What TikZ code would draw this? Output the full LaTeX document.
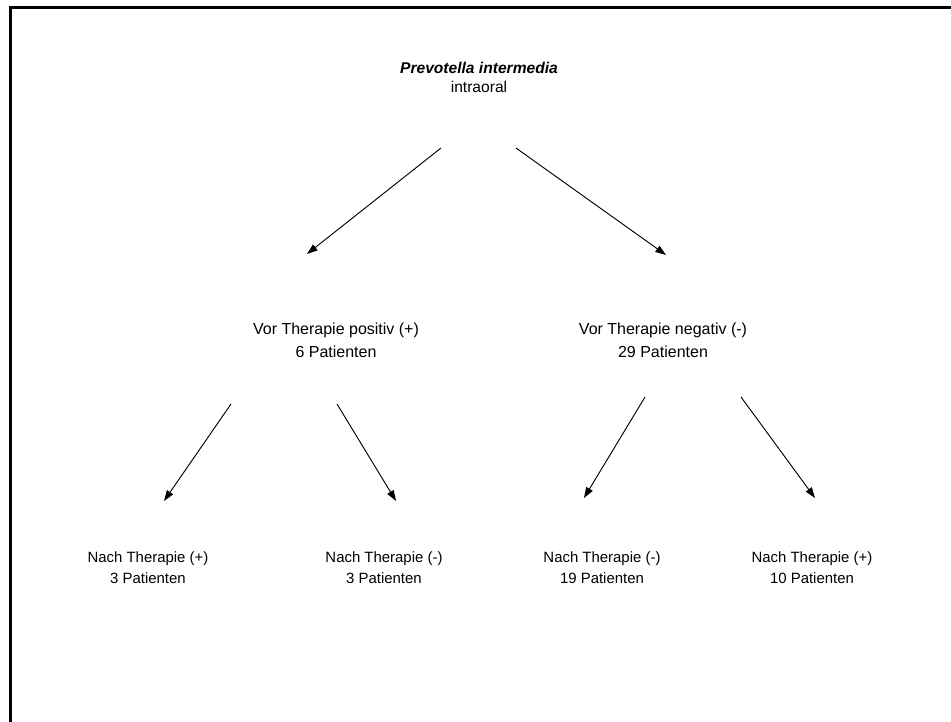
\documentclass[tikz,border=0pt]{standalone}
\usepackage{fontspec}
\setmainfont{Liberation Sans}
\usetikzlibrary{arrows.meta}
\tikzset{
  px/.style={x=0.75pt,y=-0.75pt},
  frameline/.style={line width=1.6pt,line cap=rect},
  conn/.style={line width=0.7pt,-{Triangle[length=8pt,width=5.5pt]}},
  titletext/.style={align=center,inner sep=0pt,font=\fontsize{11.7}{14.5}\selectfont},
  midtext/.style={align=center,inner sep=0pt,font=\fontsize{12}{17.2}\selectfont},
  leaftext/.style={align=center,inner sep=0pt,font=\fontsize{11.2}{15.8}\selectfont}
}
\begin{document}
\begin{tikzpicture}[px]
\useasboundingbox (0,0) rectangle (951,722);
% frame (only top and left edges visible)
\coordinate (ftr) at (960,7.5);
\coordinate (ftl) at (10.5,7.5);
\coordinate (fbl) at (10.5,730);
\draw[frameline] (ftr) -- (ftl) -- (fbl);
% nodes
\node[titletext] (title) at (479,77.5) {\textbf{\textit{Prevotella intermedia}}\\intraoral};
\node[midtext] (vpos) at (336,340.5) {Vor Therapie positiv (+)\\6 Patienten};
\node[midtext] (vneg) at (663,340.5) {Vor Therapie negativ (-)\\29 Patienten};
\node[leaftext] (n1) at (148,567.5) {Nach Therapie (+)\\3 Patienten};
\node[leaftext] (n2) at (384,567.5) {Nach Therapie (-)\\3 Patienten};
\node[leaftext] (n3) at (602,567.5) {Nach Therapie (-)\\19 Patienten};
\node[leaftext] (n4) at (812,567.5) {Nach Therapie (+)\\10 Patienten};
% connector end points
\coordinate (t1) at (441,148); \coordinate (h1) at (307,254);
\coordinate (t2) at (516,148); \coordinate (h2) at (666,255);
\coordinate (t3) at (231,404); \coordinate (h3) at (164,501);
\coordinate (t4) at (337,404); \coordinate (h4) at (396,501);
\coordinate (t5) at (645,397); \coordinate (h5) at (584,498);
\coordinate (t6) at (741,397); \coordinate (h6) at (815,498);
% connectors
\draw[conn] (t1) -- (h1);
\draw[conn] (t2) -- (h2);
\draw[conn] (t3) -- (h3);
\draw[conn] (t4) -- (h4);
\draw[conn] (t5) -- (h5);
\draw[conn] (t6) -- (h6);
\end{tikzpicture}
\end{document}
